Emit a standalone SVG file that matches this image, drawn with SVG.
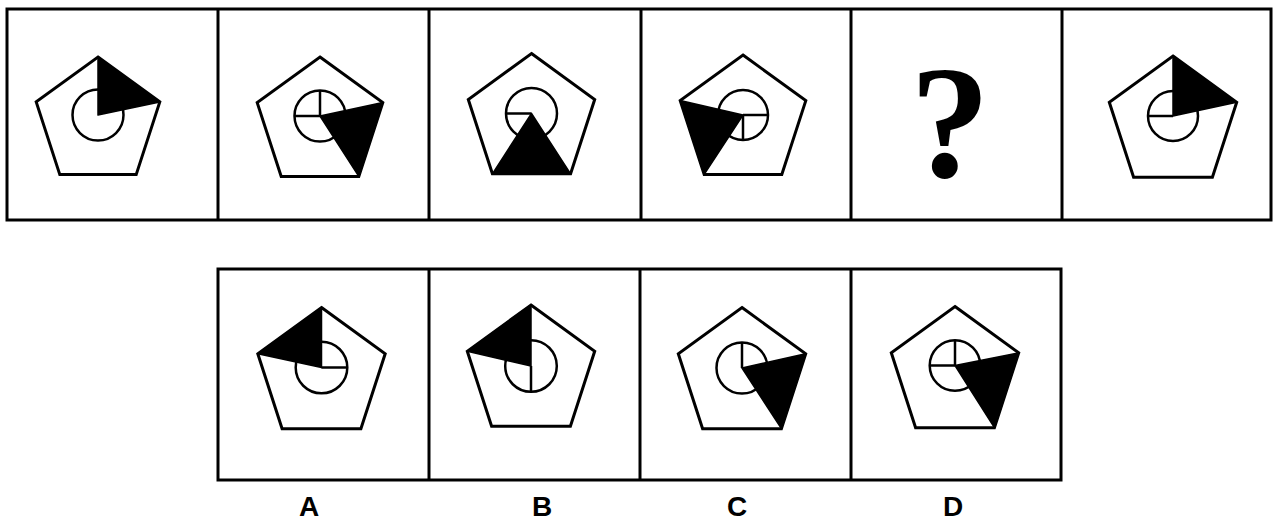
<svg xmlns="http://www.w3.org/2000/svg" width="1274" height="520" viewBox="0 0 1274 520">
<style>
.frame{fill:none;stroke:#000;stroke-width:3}
.pent{fill:#fff;stroke:#000;stroke-width:3;stroke-linejoin:miter}
.circ{fill:none;stroke:#000;stroke-width:2.5}
.ln{stroke:#000;stroke-width:2.5}
.tri{fill:#000;stroke:#000;stroke-width:1.5;stroke-linejoin:round}
.lbl{font-family:"Liberation Sans",Arial,sans-serif;font-weight:bold;font-size:28px;text-anchor:middle;fill:#000}
.q{font-family:"Liberation Serif","Times New Roman",serif;font-weight:bold;font-size:160px;text-anchor:middle;fill:#000}
</style>
<rect width="1274" height="520" fill="#fff"/>
<g id="frames">
<rect class="frame" x="7" y="9" width="1264" height="211"/>
<line class="frame" x1="218" y1="9" x2="218" y2="220"/>
<line class="frame" x1="429" y1="9" x2="429" y2="220"/>
<line class="frame" x1="641" y1="9" x2="641" y2="220"/>
<line class="frame" x1="851" y1="9" x2="851" y2="220"/>
<line class="frame" x1="1062" y1="9" x2="1062" y2="220"/>
<rect class="frame" x="218" y="269" width="843" height="211"/>
<line class="frame" x1="429" y1="269" x2="429" y2="480"/>
<line class="frame" x1="640" y1="269" x2="640" y2="480"/>
<line class="frame" x1="851" y1="269" x2="851" y2="480"/>
</g>
<g id="p1">
<polygon class="pent" points="98,57 159.8,101.9 136.2,174.6 59.8,174.6 36.2,101.9"/>
<circle class="circ" cx="98" cy="115" r="25.5"/>
<polygon class="tri" points="98,57 159.8,101.9 98,115"/>
</g>
<g id="p2">
<polygon class="pent" points="320,57 382.8,102.6 358.8,176.4 281.2,176.4 257.2,102.6"/>
<circle class="circ" cx="320" cy="116" r="25.5"/>
<line class="ln" x1="320" y1="90.5" x2="320" y2="116"/>
<line class="ln" x1="294.5" y1="116" x2="320" y2="116"/>
<polygon class="tri" points="320,116 382.8,102.6 358.8,176.4"/>
</g>
<g id="p3">
<polygon class="pent" points="531.5,53.5 594.7,99.5 570.6,173.8 492.4,173.8 468.3,99.5"/>
<circle class="circ" cx="531.5" cy="113.5" r="25.5"/>
<line class="ln" x1="506" y1="113.5" x2="531.5" y2="113.5"/>
<polygon class="tri" points="531.5,113.5 570.6,173.8 492.4,173.8"/>
</g>
<g id="p4">
<polygon class="pent" points="743,55 805.8,100.6 781.8,174.4 704.2,174.4 680.2,100.6"/>
<circle class="circ" cx="743" cy="115" r="25"/>
<line class="ln" x1="743" y1="115" x2="768" y2="115"/>
<line class="ln" x1="743" y1="115" x2="743" y2="140"/>
<polygon class="tri" points="743,115 680.2,100.6 704.2,174.4"/>
</g>
<g id="p5">
<text class="q" x="950" y="177">?</text>
</g>
<g id="p6">
<polygon class="pent" points="1173,56 1236.7,102.3 1212.4,177.2 1133.6,177.2 1109.3,102.3"/>
<circle class="circ" cx="1173" cy="116" r="25"/>
<line class="ln" x1="1148" y1="116" x2="1173" y2="116"/>
<polygon class="tri" points="1173,116 1173,56 1236.7,102.3"/>
</g>
<g id="optA">
<polygon class="pent" points="321.5,307.5 385.2,353.8 360.9,428.7 282.1,428.7 257.8,353.8"/>
<circle class="circ" cx="321.5" cy="367.5" r="25.8"/>
<line class="ln" x1="321.5" y1="367.5" x2="347.3" y2="367.5"/>
<polygon class="tri" points="321.5,367.5 321.5,307.5 257.8,353.8"/>
<text class="lbl" x="309" y="516">A</text>
</g>
<g id="optB">
<polygon class="pent" points="531,305 594.7,351.3 570.4,426.2 491.6,426.2 467.3,351.3"/>
<circle class="circ" cx="531" cy="366" r="25.8"/>
<line class="ln" x1="531" y1="366" x2="531" y2="391.8"/>
<polygon class="tri" points="531,366 531,305 467.3,351.3"/>
<text class="lbl" x="542" y="516">B</text>
</g>
<g id="optC">
<polygon class="pent" points="742,307.5 805.7,353.8 781.4,428.7 702.6,428.7 678.3,353.8"/>
<circle class="circ" cx="742" cy="368" r="25.5"/>
<line class="ln" x1="742" y1="342.5" x2="742" y2="368"/>
<polygon class="tri" points="742,368 805.7,353.8 781.4,428.7"/>
<text class="lbl" x="737" y="516">C</text>
</g>
<g id="optD">
<polygon class="pent" points="955,306.5 1018.7,352.8 994.4,427.7 915.6,427.7 891.3,352.8"/>
<circle class="circ" cx="955" cy="365.5" r="25.3"/>
<line class="ln" x1="955" y1="340.2" x2="955" y2="365.5"/>
<line class="ln" x1="929.7" y1="365.5" x2="955" y2="365.5"/>
<polygon class="tri" points="955,365.5 1018.7,352.8 994.4,427.7"/>
<text class="lbl" x="953" y="516">D</text>
</g>
</svg>
